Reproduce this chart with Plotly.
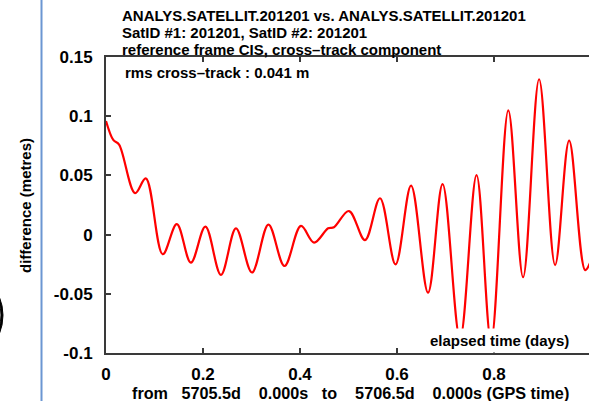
import plotly.graph_objects as go

# ---- data ----
elapsed_days = [0.000, 0.015, 0.027, 0.060, 0.082, 0.117, 0.146, 0.175, 0.205, 0.237,
                0.268, 0.301, 0.335, 0.368, 0.402, 0.429, 0.458, 0.470, 0.501, 0.534,
                0.565, 0.597, 0.629, 0.664, 0.694, 0.730, 0.764, 0.794, 0.8295, 0.860,
                0.893, 0.926, 0.955, 0.988, 1.000]
cross_track_diff = [0.096, 0.080, 0.076, 0.035, 0.0475, -0.0166, 0.0089, -0.0237, 0.0067, -0.034,
                    0.0053, -0.032, 0.0085, -0.0265, 0.0073, -0.0068, 0.0053, 0.0062, 0.0199, -0.0046,
                    0.0307, -0.0251, 0.0413, -0.049, 0.0427, -0.088, 0.0503, -0.090, 0.105, -0.036,
                    0.1312, -0.0257, 0.0793, -0.030, -0.022]
x_ticks = [0, 0.2, 0.4, 0.6, 0.8]
x_tick_labels = ["0", "0.2", "0.4", "0.6", "0.8"]
y_ticks = [-0.1, -0.05, 0, 0.05, 0.1, 0.15]
y_tick_labels = ["-0.1", "-0.05", "0", "0.05", "0.1", "0.15"]
title_lines = ["ANALYS.SATELLIT.201201 vs. ANALYS.SATELLIT.201201",
               "SatID #1: 201201, SatID #2: 201201",
               "reference frame CIS, cross\u2013track component"]
title_line_y = [16.0, 32.5, 49.0]
rms_text = "rms cross\u2013track : 0.041 m"
NB = "\u00a0"
x_title = ("from" + NB * 3 + "5705.5d" + NB * 4 + "0.000s" + NB * 3 + "to" + NB * 4 +
           "5706.5d" + NB * 4 + "0.000s (GPS time)")
y_title = "difference (metres)"
elapsed_label = "elapsed time (days)"

W, H = 589, 401
L, R, T, B = 106, 0, 57, 48
PW, PH = W - L - R, H - T - B

def px(xp):
    return (xp - L) / PW

def py(yp):
    return (H - B - yp) / PH

FONT = "Liberation Sans, Arial, sans-serif"
AX = "#3a3a3a"

fig = go.Figure()
fig.add_trace(go.Scatter(x=elapsed_days, y=cross_track_diff, mode="lines",
                         line=dict(color="#ff0000", width=2.2, shape="spline", smoothing=1.0),
                         hoverinfo="skip", showlegend=False))

fig.update_layout(
    width=W, height=H, margin=dict(l=L, r=R, t=T, b=B),
    paper_bgcolor="white", plot_bgcolor="white",
    font=dict(family=FONT, size=15, color="black", weight="bold"),
    showlegend=False,
    xaxis=dict(range=[0, 0.9959], tickvals=x_ticks, ticktext=x_tick_labels,
               showgrid=False, zeroline=False, showline=True, linecolor=AX, linewidth=2,
               ticks="inside", ticklen=5, tickwidth=1.5, tickcolor=AX, mirror="ticks",
               ticklabelstandoff=5, tickfont=dict(size=17, weight="bold")),
    yaxis=dict(range=[-0.1, 0.15], tickvals=y_ticks, ticktext=y_tick_labels,
               showgrid=False, zeroline=False, showline=True, linecolor=AX, linewidth=2,
               ticks="inside", ticklen=5, tickwidth=1.5, tickcolor=AX,
               ticklabelstandoff=8, tickfont=dict(size=17, weight="bold")),
)

anns = []
for line, ly in zip(title_lines, title_line_y):
    anns.append(dict(text=line, xref="paper", yref="paper", x=px(120), y=py(ly),
                     xanchor="left", yanchor="middle", showarrow=False,
                     font=dict(size=15, weight="bold")))
anns.append(dict(text=rms_text, xref="paper", yref="paper", x=px(123), y=py(72),
                 xanchor="left", yanchor="middle", showarrow=False,
                 font=dict(size=15, weight="bold")))
anns.append(dict(text=elapsed_label, xref="paper", yref="paper", x=px(573), y=py(340),
                 xanchor="right", yanchor="middle", showarrow=False, bgcolor="white",
                 borderpad=3, font=dict(size=15, weight="bold")))
anns.append(dict(text=x_title, xref="paper", yref="paper", x=px(130), y=py(393),
                 xanchor="left", yanchor="middle", showarrow=False,
                 font=dict(size=16.2, weight="bold")))
anns.append(dict(text=y_title, xref="paper", yref="paper", x=px(25), y=py(206),
                 xanchor="center", yanchor="middle", showarrow=False, textangle=-90,
                 font=dict(size=15, weight="bold")))
fig.update_layout(annotations=anns)

# decorative screenshot edges (blue separator and dark arc)
fig.add_shape(type="line", xref="paper", yref="paper", x0=px(41.5), x1=px(41.5),
              y0=py(-2), y1=py(H + 2), line=dict(color="#6b96d2", width=2))
arc = (f"M {px(-1)},{py(296)} Q {px(7)},{py(315)} {px(-1)},{py(335)} "
       f"L {px(-1)},{py(328)} Q {px(3)},{py(315)} {px(-1)},{py(302)} Z")
fig.add_shape(type="path", xref="paper", yref="paper", path=arc,
              fillcolor="black", line=dict(color="black", width=1))

fig.write_html("out.html")
